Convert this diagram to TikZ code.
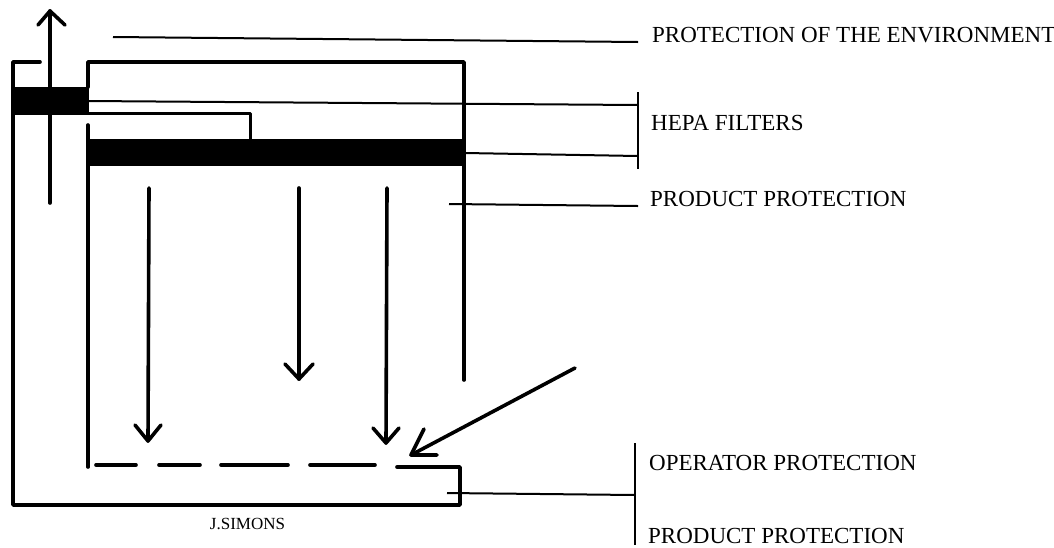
\documentclass[tikz,border=0pt]{standalone}
\usepackage{fontspec}
\setmainfont{Liberation Serif}
\tikzset{
  x=1pt,y=-1pt,
  wall/.style={line width=3.6pt,line join=round,line cap=round},
  duct/.style={line width=3pt,line join=round},
  thinline/.style={line width=2pt},
  flow/.style={line width=3.6pt,line cap=round,line join=round},
  filter/.style={fill=black,draw=none},
  lbl/.style={anchor=west,inner sep=0pt,font=\fontsize{23}{26}\selectfont},
  sign/.style={anchor=center,inner sep=0pt,font=\fontsize{17}{20}\selectfont}
}
\begin{document}
\begin{tikzpicture}
\useasboundingbox (0,0) rectangle (1054,547);
\fill[white] (0,0) rectangle (1054,547);
% labels
\node[lbl] (env) at (652,35) {PROTECTION OF THE ENVIRONMENT};
\node[lbl] (hepa) at (651,123) {HEPA FILTERS};
\node[lbl] (prod) at (650,199) {PRODUCT PROTECTION};
\node[lbl] (oper) at (649,463) {OPERATOR PROTECTION};
\node[lbl] (prodb) at (648,535.5) {PRODUCT PROTECTION};
\node[sign] (sig) at (247.5,524) {J.SIMONS};
% filters
\fill[filter] (12,87) rectangle (89,115);
\fill[filter] (88,139) rectangle (466,166);
% cabinet walls
\draw[wall] (40,62) -- (13,62) -- (13,505) -- (460,505) -- (460,467) -- (397,467);
\draw[wall] (88,87) -- (88,62) -- (464,62) -- (464,380);
\draw[wall] (88,125) -- (88,467);
\draw[duct] (88,113) -- (250,113) -- (250,139);
% dashed grille
\foreach \a/\b in {96/136,159/200,221/288,310/375}{
  \draw[wall] (\a,465) -- (\b,465);
}
% flow arrows
\draw[flow] (50,203) -- (50,11);
\draw[flow] (38,25) -- (50,11) -- (65,25);
\draw[flow] (149,188) -- (148,441);
\draw[flow] (135,425) -- (148,441) -- (161,425);
\draw[flow] (299,188) -- (299,379);
\draw[flow] (285,364) -- (299,379) -- (313,364);
\draw[flow] (387,188) -- (386,443);
\draw[flow] (373,428) -- (386,443) -- (399,428);
\draw[flow] (575,368) -- (411,455);
\draw[flow] (424,429) -- (411,455) -- (437,455);
% leaders
\coordinate (e1) at (113,37);
\coordinate (e2) at (638,42);
\draw[thinline] (e1) -- (e2);
\coordinate (h1) at (88,101);
\coordinate (h2) at (638,105);
\coordinate (h3) at (465,153);
\coordinate (h4) at (638,156);
\coordinate (ht) at (638,92);
\coordinate (hb) at (638,169);
\draw[thinline] (h1) -- (h2);
\draw[thinline] (h3) -- (h4);
\draw[thinline] (ht) -- (hb);
\coordinate (p1) at (449,204);
\coordinate (p2) at (638,206);
\draw[thinline] (p1) -- (p2);
\coordinate (o1) at (447,493);
\coordinate (o2) at (635,495);
\coordinate (ot) at (635,443);
\coordinate (ob) at (635,545);
\draw[thinline] (o1) -- (o2);
\draw[thinline] (ot) -- (ob);
\end{tikzpicture}
\end{document}
